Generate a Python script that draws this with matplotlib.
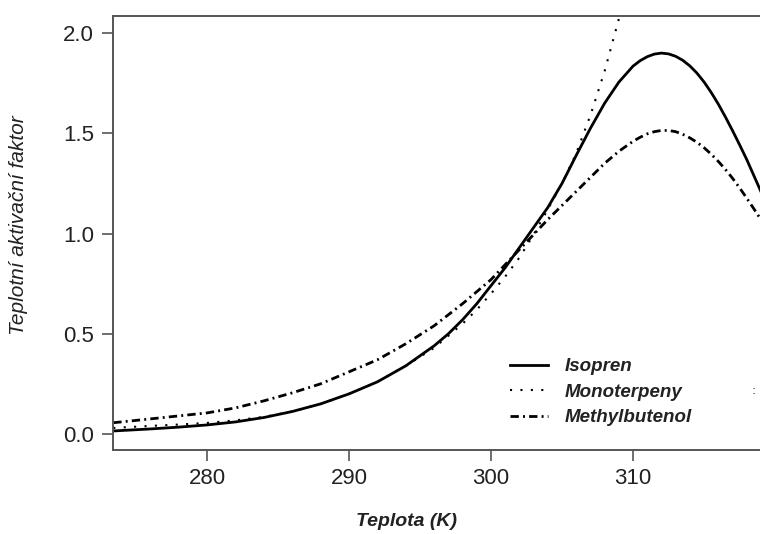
import matplotlib
matplotlib.use("Agg")
from matplotlib import pyplot as plt

# values
teplota = [273.4, 276, 278, 280, 282, 284, 286, 288, 290, 292, 294, 296, 297,
           298, 299, 300, 301, 302, 303, 304, 305, 306, 307, 308, 309, 310,
           310.5, 311, 311.5, 312, 312.5, 313, 313.5, 314, 314.5, 315, 315.5,
           316, 316.5, 317, 317.5, 318, 318.5, 319]
isopren = [0.015, 0.025, 0.034, 0.045, 0.06, 0.082, 0.112, 0.15, 0.20, 0.26,
           0.34, 0.44, 0.50, 0.57, 0.65, 0.74, 0.83, 0.93, 1.03, 1.13, 1.25,
           1.39, 1.525, 1.65, 1.755, 1.835, 1.862, 1.882, 1.895, 1.90, 1.896,
           1.884, 1.864, 1.836, 1.80, 1.756, 1.704, 1.646, 1.582, 1.514, 1.443,
           1.37, 1.29, 1.21]
methylbutenol = [0.056, 0.075, 0.09, 0.105, 0.13, 0.165, 0.205, 0.25, 0.31,
                 0.37, 0.45, 0.54, 0.595, 0.65, 0.71, 0.77, 0.845, 0.92, 0.995,
                 1.07, 1.14, 1.21, 1.28, 1.35, 1.41, 1.46, 1.48, 1.497, 1.508,
                 1.514, 1.514, 1.508, 1.495, 1.477, 1.455, 1.428, 1.396, 1.36,
                 1.32, 1.276, 1.228, 1.177, 1.124, 1.07]

teplota_mono = [273.4, 276, 278, 280, 282, 284, 286, 288, 290, 292, 294, 296,
                297, 298, 299, 300, 301, 302, 303, 304, 305, 306, 307, 308,
                308.5, 309, 309.4]
monoterpeny = [0.03, 0.04, 0.047, 0.055, 0.068, 0.085, 0.112, 0.15, 0.20, 0.26,
               0.34, 0.43, 0.49, 0.55, 0.62, 0.70, 0.785, 0.88, 0.995, 1.12,
               1.25, 1.40, 1.59, 1.81, 1.94, 2.07, 2.17]

x_ticks = [280, 290, 300, 310]
y_ticks = [0.0, 0.5, 1.0, 1.5, 2.0]

fonts = ["Liberation Sans", "DejaVu Sans"]

fig = plt.figure(figsize=(7.6, 5.34), dpi=100)
ax = fig.add_axes([113 / 760, 84 / 534, 647 / 760, 434 / 534])

ax.plot(teplota, isopren, color="black", lw=2.0, ls="-", label="Isopren")
ax.plot(teplota_mono, monoterpeny, color="black", lw=1.5, ls=(0, (1, 4)),
        label="Monoterpeny")
ax.plot(teplota, methylbutenol, color="black", lw=2.0,
        ls=(0, (3, 1.5, 0.7, 1.5)), label="Methylbutenol")

ax.set_xlim(273.38, 318.94)
ax.set_ylim(-0.08, 2.085)
ax.set_xticks(x_ticks)
ax.set_yticks(y_ticks)
ax.set_yticklabels([f"{v:.1f}" for v in y_ticks])

for side in ["left", "bottom", "top"]:
    ax.spines[side].set_color("#555555")
    ax.spines[side].set_linewidth(1.4)
ax.spines["right"].set_visible(False)

ax.tick_params(axis="both", direction="out", length=8, width=1.2,
               color="#555555", labelsize=16, labelcolor="#222222")
ax.tick_params(axis="y", pad=5.5)
ax.tick_params(axis="x", pad=5)
for lab in ax.get_xticklabels() + ax.get_yticklabels():
    lab.set_family(fonts)

ax.set_xlabel("Teplota (K)", family=fonts, fontsize=14, fontstyle="italic",
              fontweight="bold", color="#222222")
ax.xaxis.label.set_verticalalignment("center")
ax.xaxis.set_label_coords(0.453, -0.1636)
ax.set_ylabel("Teplotní aktivační faktor", family=fonts, fontsize=15,
              fontstyle="italic", color="#222222")
ax.yaxis.label.set_verticalalignment("center")
ax.yaxis.set_label_coords(-0.1468, 0.518)

leg = ax.legend(loc="upper left", bbox_to_anchor=(0.6136, 0.212), frameon=False,
                borderaxespad=0, borderpad=0, handlelength=2.03,
                handletextpad=0.9, labelspacing=0.45,
                prop={"family": fonts, "size": 13.5, "style": "italic",
                      "weight": "bold"})
for t in leg.get_texts():
    t.set_color("#222222")

# small stray mark at the right edge of the reference, beside the legend
fig.text(0.995, (534 - 391) / 534, ":", fontsize=9, color="#333333",
         ha="right", va="center")

fig.savefig("out.png", dpi=100)
